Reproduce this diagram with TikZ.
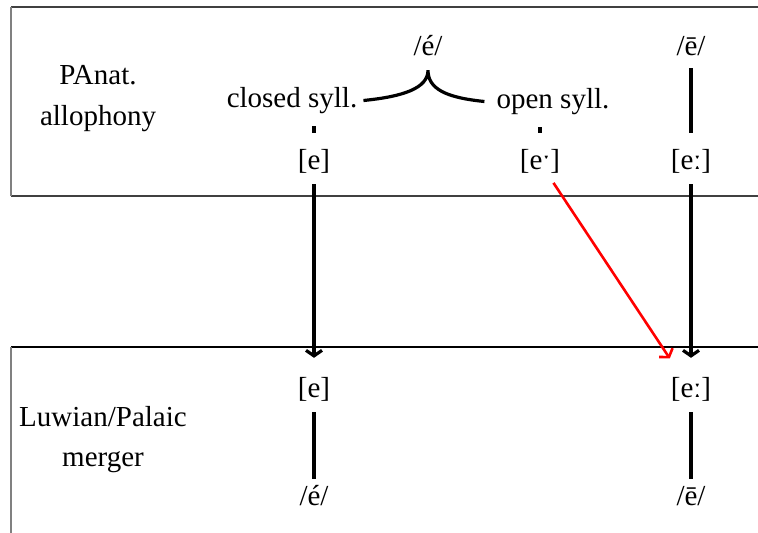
\documentclass[tikz,border=0pt]{standalone}
\usepackage{fontspec}
\setmainfont{Liberation Serif}
\usetikzlibrary{arrows.meta}
\begin{document}
\begin{tikzpicture}[x=1pt,y=-1pt,
  every node/.style={font=\fontsize{29}{37}\selectfont},
  ph/.style={inner sep=0pt, text height=20pt, text depth=7pt, anchor=base},
  lbl/.style={align=center, inner sep=0pt, anchor=center},
  conn/.style={line width=3.2pt},
  arr/.style={line width=3.2pt, -{Straight Barb[length=5.5pt,width=16pt]}},
  rarr/.style={line width=2.6pt, red, -{Straight Barb[length=5.5pt,width=16pt]}},
  hline/.style={line width=1.4pt, black!75},
  vline/.style={line width=1.4pt, black!50}]
\useasboundingbox (0,0) rectangle (758,533);
% boxes
\draw[hline] (758,7) -- (11,7);
\draw[hline] (11,196) -- (758,196);
\draw[vline] (11,7) -- (11,196);
\draw[line width=1.4pt] (758,347) -- (11,347);
\draw[vline] (11,347) -- (11,533);
% labels
\node[lbl] (pa) at (98,99) {PAnat.\\[4pt]allophony};
\node[lbl] (lp) at (103,440) {Luwian/Palaic\\[3pt]merger};
% top tier
\node[ph] (ea) at (428,55) {/é/};
\node[ph] (eb) at (691,55) {/ē/};
\node[ph] (cl) at (292,107) {closed syll.};
\node[ph] (op) at (553,108) {open syll.};
\node[ph] (e1) at (314,169) {[e]};
\node[ph] (e2) at (540,169) {[eˑ]};
\node[ph] (e3) at (691,169) {[eː]};
% bottom tier
\node[ph] (f1) at (314,397) {[e]};
\node[ph] (g1) at (314,505) {/é/};
\node[ph] (f3) at (691,397) {[eː]};
\node[ph] (g3) at (691,505) {/ē/};
% brace
\draw[conn] ([xshift=6pt]cl.east) .. controls +(40,-4) and +(0,18) .. ([yshift=-8pt]ea.south)
  .. controls +(0,18) and +(-40,-4) .. ([xshift=-12pt]op.west);
% short ticks
\draw[conn, shorten <=12pt, shorten >=16pt] (e1.north |- cl.south) -- (e1.north);
\draw[conn, shorten <=12pt, shorten >=16pt] (e2.north |- op.south) -- (e2.north);
\draw[conn, shorten <=6pt, shorten >=16pt] (eb) -- (e3);
% arrows
\draw[arr, shorten <=8pt, shorten >=19pt] (e1) -- (f1);
\draw[arr, shorten <=8pt, shorten >=19pt] (e3) -- (f3);
\draw[rarr, shorten <=8pt, shorten >=22pt] (e2) -- (f3);
% bottom lines
\draw[conn, shorten <=8pt, shorten >=6pt] (f1) -- (g1);
\draw[conn, shorten <=8pt, shorten >=6pt] (f3) -- (g3);
\end{tikzpicture}
\end{document}
